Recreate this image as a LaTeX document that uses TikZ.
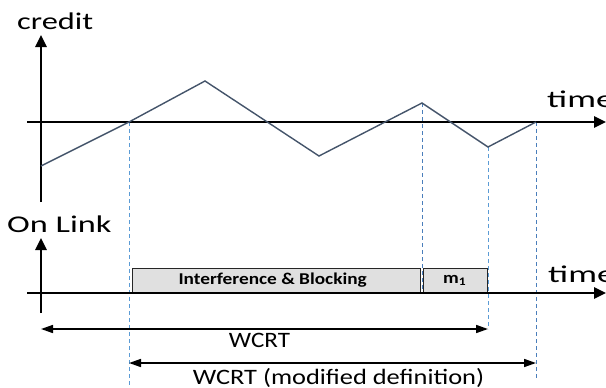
\documentclass[tikz,border=0pt]{standalone}
\usepackage{fontspec}
\setmainfont{Carlito}
\usetikzlibrary{arrows.meta}
\definecolor{curve}{HTML}{44546A}
\definecolor{dashA}{HTML}{5B9BD5}
\definecolor{dashB}{HTML}{4A7EBB}
\definecolor{boxfill}{HTML}{E0E0E0}
\tikzset{
  axis/.style={line width=2.6pt,-{Triangle[length=12pt,width=11pt]}},
  twoway/.style={line width=1.6pt,{Triangle[length=12pt,width=8pt]}-{Triangle[length=12pt,width=8pt]}},
  guide/.style={line width=0.7pt,dash pattern=on 4pt off 3pt},
  slot/.style={draw,line width=1.4pt,draw=black!85,fill=boxfill,inner sep=0pt},
  lbl/.style={inner sep=0pt,font=\fontsize{24}{26}\selectfont},
  wlbl/.style={inner sep=0pt,font=\fontsize{22}{24}\selectfont},
  blbl/.style={inner sep=0pt,font=\bfseries\fontsize{16.5}{18}\selectfont}
}
\begin{document}
\begin{tikzpicture}[x=1pt,y=-1pt]
\useasboundingbox (0,0) rectangle (606,388);
% coordinates
\coordinate (ta0) at (41,202);
\coordinate (ta1) at (41,35);
\coordinate (th0) at (27,122);
\coordinate (th1) at (606,122);
\coordinate (c0) at (41,166);
\coordinate (c1) at (129,122);
\coordinate (c2) at (205,81);
\coordinate (c3) at (319,156);
\coordinate (c4) at (422,103);
\coordinate (c5) at (488,147);
\coordinate (c6) at (536,122);
\coordinate (ba0) at (41,313);
\coordinate (ba1) at (41,238);
\coordinate (bh0) at (27,293);
\coordinate (bh1) at (606,293);
\coordinate (d1) at (129,386);
\coordinate (d2) at (422,293);
\coordinate (d3) at (488,329);
\coordinate (d4) at (536,378);
\coordinate (w0) at (41,329);
\coordinate (m0) at (129,363);
\coordinate (m1) at (536,363);
% guides
\draw[guide,dashA] (c1) -- (d1);
\draw[guide,dashB] (c4) -- (d2);
\draw[guide,dashA] (c5) -- (d3);
\draw[guide,dashB] (c6) -- (d4);
% boxes
\node[slot,minimum width=288pt,minimum height=24pt,anchor=south west] (ib) at (132,293) {};
\node[blbl] (ibt) at ([xshift=-4pt]ib.center) {\scalebox{1.17}[1]{Interference \& Blocking}};
\node[slot,minimum width=64pt,minimum height=24pt,anchor=south west] (mb) at (423,293) {};
\node[blbl] (mbt) at ([xshift=-1pt]mb.center) {\scalebox{1.17}[1]{m\textsubscript{1}}};
% axes
\draw[axis] (ta0) -- (ta1);
\draw[axis] (th0) -- (th1);
\draw[axis] (ba0) -- (ba1);
\draw[axis] (bh0) -- (bh1);
% curve
\draw[curve,line width=1.4pt,line join=miter] (c0) -- (c1) -- (c2) -- (c3) -- (c4) -- (c5) -- (c6);
% arrows
\draw[twoway] (w0) -- (d3);
\draw[twoway] (m0) -- (m1);
% labels
\node[lbl,anchor=base west] (cr) at (17,30) {\scalebox{1.35}[1]{credit}};
\node[lbl,anchor=base west] (t1) at (547,107) {\scalebox{1.5}[1]{time}};
\node[lbl,anchor=base west] (ol) at (7,232) {\scalebox{1.43}[1]{On Link}};
\node[lbl,anchor=base west] (t2) at (548,282) {\scalebox{1.5}[1]{time}};
\node[wlbl,anchor=base] (wl) at (259.5,347) {\scalebox{1.14}[1]{WCRT}};
\node[wlbl,anchor=base] (ml) at (338.5,384) {\scalebox{1.2}[1]{WCRT (modified definition)}};
\end{tikzpicture}
\end{document}
